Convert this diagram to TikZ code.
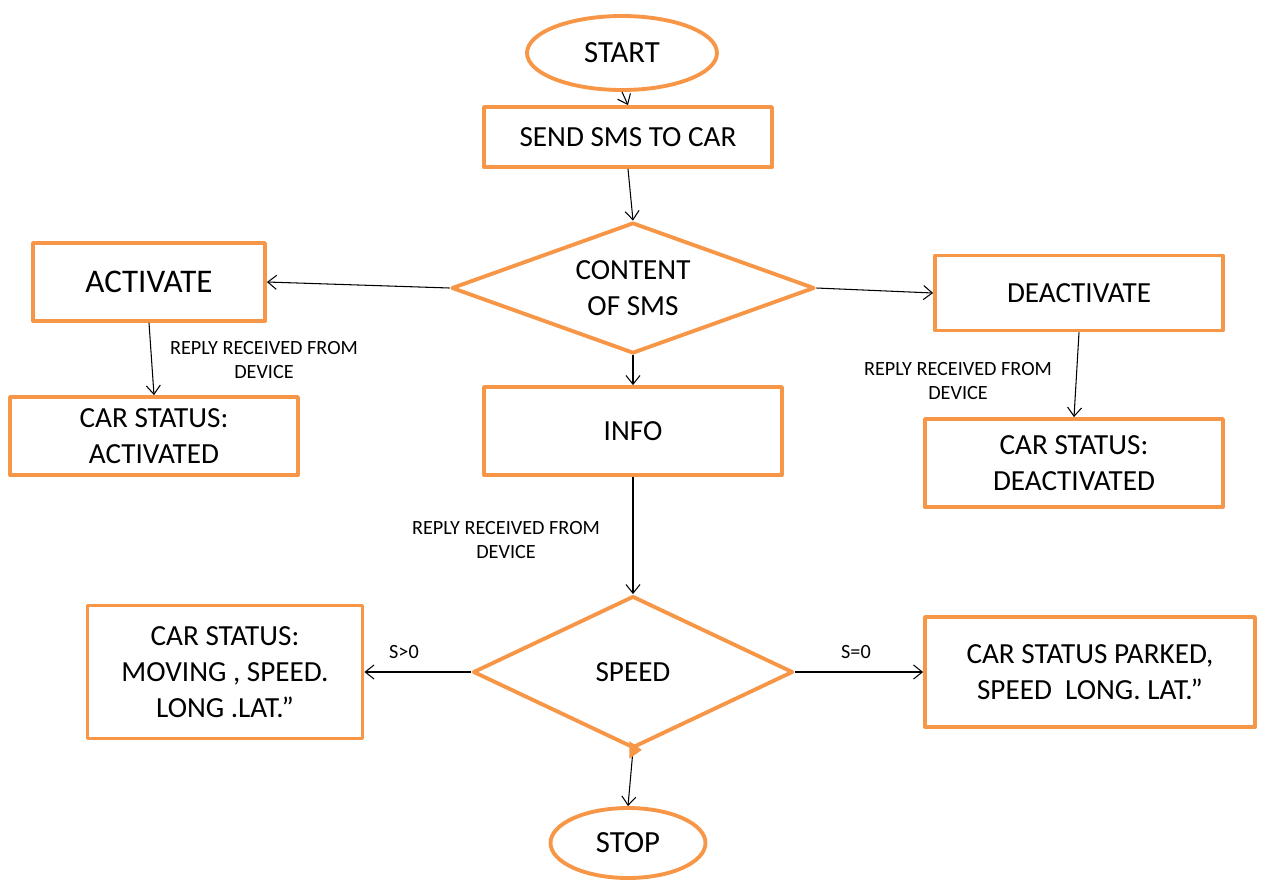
\documentclass[tikz,border=0pt]{standalone}
\usepackage{fontspec}
\setmainfont{Carlito}
\usetikzlibrary{shapes.geometric,arrows.meta}
\definecolor{flowline}{HTML}{F79646}
\begin{document}
\begin{tikzpicture}[x=0.02cm,y=-0.02cm,>={Straight Barb[length=5pt,width=8pt]},line join=round]
    \tikzset{
        box/.style={draw=flowline,line width=2.2pt,inner sep=0pt,align=center,
            font=\fontsize{16.6}{20.5}\selectfont},
        decision/.style={diamond,draw=flowline,line width=2.2pt,inner sep=0pt,
            align=center,font=\fontsize{16.6}{20.5}\selectfont},
        terminal/.style={ellipse,draw=flowline,line width=2.2pt,inner sep=0pt,
            font=\fontsize{17.5}{20}\selectfont},
        note/.style={align=center,font=\fontsize{11.5}{14}\selectfont},
        flow/.style={->,line width=0.6pt}
    }
    \useasboundingbox (0,0) rectangle (1264,880);
    % terminals and decisions
    \node[terminal,minimum width=3.8cm,minimum height=1.48cm] (start) at (622,53) {START};
    \node[box,minimum width=5.76cm,minimum height=1.2cm] (send) at (628,137) {SEND SMS TO CAR};
    \node[decision,aspect=2.77,minimum width=7.26cm,minimum height=2.62cm] (content) at (633,288) {CONTENT\\OF SMS};
    \node[box,minimum width=4.64cm,minimum height=1.56cm,font=\fontsize{18.8}{20}\selectfont] (activate) at (149,282) {ACTIVATE};
    \node[box,minimum width=5.76cm,minimum height=1.5cm] (deactivate) at (1079,293) {DEACTIVATE};
    \node[box,minimum width=5.76cm,minimum height=1.56cm] (activated) at (154,436) {CAR STATUS:\\ACTIVATED};
    \node[box,minimum width=5.96cm,minimum height=1.76cm] (deactivated) at (1074,463) {CAR STATUS:\\DEACTIVATED};
    \node[box,minimum width=5.96cm,minimum height=1.76cm] (info) at (633,431) {INFO};
    \node[decision,aspect=2.1,minimum width=6.4cm,minimum height=3.04cm] (speed) at (633,672) {SPEED};
    \node[box,minimum width=5.5cm,minimum height=2.66cm] (moving) at (225,672) {CAR STATUS:\\MOVING , SPEED.\\LONG .LAT.”};
    \node[box,minimum width=6.6cm,minimum height=2.2cm] (parked) at (1090,672) {CAR STATUS PARKED,\\SPEED~ LONG. LAT.”};
    \node[terminal,minimum width=3.1cm,minimum height=1.4cm] (stop) at (628,843) {STOP};
    % labels on the connectors
    \node[note] (replyA) at (264,360) {REPLY RECEIVED FROM\\DEVICE};
    \node[note] (replyB) at (958,381) {REPLY RECEIVED FROM\\DEVICE};
    \node[note] (replyC) at (506,540) {REPLY RECEIVED FROM\\DEVICE};
    \node[note] (sgt) at (404,652) {S>0};
    \node[note] (seq) at (856,652) {S=0};
    % connectors
    \draw[flow] (start.south) -- (send.north);
    \draw[flow] (send.south) -- (content.north);
    \draw[flow] (content.west) -- (activate.east);
    \draw[flow] (content.east) -- (deactivate.west);
    \draw[flow] (content.south) -- (info.north);
    \draw[flow] (activate.south) -- (activated.north);
    \draw[flow] (deactivate.south) -- (deactivated.north);
    \draw[flow] (info.south) -- (speed.north);
    \draw[flow] (speed.west) -- (moving.east);
    \draw[flow] (speed.east) -- (parked.west);
    \draw[flow] (speed.south) -- (stop.north);
    \fill[flowline] ([xshift=-2pt,yshift=5pt]speed.south) -- ([xshift=5pt]speed.south) -- ([xshift=-2pt,yshift=-5pt]speed.south) -- cycle;
\end{tikzpicture}
\end{document}
